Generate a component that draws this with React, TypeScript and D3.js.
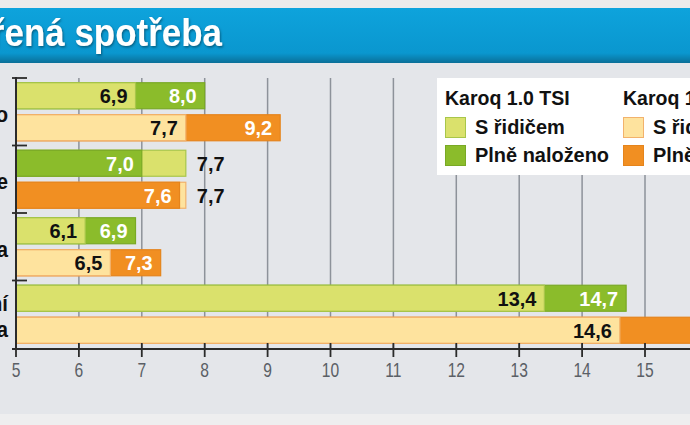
import React from "react";
import * as d3 from "d3";

const categories = ["Město", "Dálnice", "Okreska", "Sportovní jízda"];
const tsi10Driver = [6.9, 7.7, 6.1, 13.4];
const tsi10Loaded = [8.0, 7.0, 6.9, 14.7];
const tsi15Driver = [7.7, 7.7, 6.5, 14.6];
const tsi15Loaded = [9.2, 7.6, 7.3, 16.6];
const xTicks = [5, 6, 7, 8, 9, 10, 11, 12, 13, 14, 15];

const W = 690;
const H = 425;
const FONT = "'Liberation Sans', Arial, sans-serif";

const models = [
  {
    key: "tsi10",
    name: "Karoq 1.0 TSI",
    driver: tsi10Driver,
    loaded: tsi10Loaded,
    light: "#dae16c",
    lightStroke: "#a8c64a",
    dark: "#8bbc2b",
    darkStroke: "#79a925",
  },
  {
    key: "tsi15",
    name: "Karoq 1.5 TSI",
    driver: tsi15Driver,
    loaded: tsi15Loaded,
    light: "#fee39e",
    lightStroke: "#f2b26c",
    dark: "#f18f22",
    darkStroke: "#e5841c",
  },
];

const fmt = (v: number) => v.toFixed(1).replace(".", ",");

// text squeezed horizontally, the source uses a condensed face
const Narrow = ({ x, y, sx = 0.92, children, ...rest }: any) => (
  <g transform={`translate(${x},${y}) scale(${sx},1)`}>
    <text x={0} y={0} fontFamily={FONT} {...rest}>
      {children}
    </text>
  </g>
);

export default function App() {
  const x = d3.scaleLinear().domain([5, 15]).range([16, 645]);
  const y = d3.scaleBand().domain(categories).range([78, 348]);
  const inner = d3
    .scaleBand()
    .domain(models.map((m) => m.key))
    .range([0, y.bandwidth()])
    .paddingInner(0.1875)
    .paddingOuter(0.148);
  const bh = inner.bandwidth();
  const x0 = x(5);

  return (
    <div style={{ position: "absolute", left: 0, top: 0 }}>
      <svg width={W} height={H} style={{ display: "block" }}>
        <defs>
          <linearGradient id="band" x1="0" y1="0" x2="0" y2="1">
            <stop offset="0" stopColor="#0ea3dc" />
            <stop offset="0.82" stopColor="#0a97cf" />
            <stop offset="1" stopColor="#0a6f98" />
          </linearGradient>
          <filter id="shadow" x="-5%" y="-20%" width="110%" height="140%">
            <feDropShadow dx="1" dy="1.5" stdDeviation="0.8" floodColor="#04425e" floodOpacity="0.7" />
          </filter>
        </defs>

        <rect x={0} y={0} width={W} height={H} fill="#e4e6ea" />
        <rect x={0} y={0} width={W} height={8} fill="#ebebeb" />
        <rect x={0} y={414} width={W} height={11} fill="#eeeeef" />
        <rect x={0} y={8} width={W} height={55} fill="url(#band)" />
        <g filter="url(#shadow)">
          <Narrow x={222} y={46} sx={0.92} textAnchor="end" fill="#fff" fontWeight="bold" fontSize={38}>
            Naměřená spotřeba
          </Narrow>
        </g>

        {/* grid */}
        {xTicks.slice(1).map((t) => (
          <line key={t} x1={x(t)} x2={x(t)} y1={78} y2={349} stroke="#8d929a" strokeWidth={1.5} />
        ))}

        {/* legend */}
        <rect x={437} y={78} width={260} height={97} fill="#ffffff" />
        {models.map((m, i) => {
          const lx = 445 + i * 178;
          return (
            <g key={m.key} fill="#111">
              <Narrow x={lx} y={105} sx={0.93} fontWeight="bold" fontSize={21}>{m.name}</Narrow>
              <rect x={lx + 0.5} y={117.5} width={20} height={20} fill={m.light} stroke={m.lightStroke} />
              <Narrow x={lx + 30} y={134} sx={0.95} fontWeight="bold" fontSize={21}>S řidičem</Narrow>
              <rect x={lx + 0.5} y={145.5} width={20} height={20} fill={m.dark} stroke={m.darkStroke} />
              <Narrow x={lx + 30} y={162} sx={0.95} fontWeight="bold" fontSize={21}>Plně naloženo</Narrow>
            </g>
          );
        })}

        {/* bars */}
        {categories.map((c, ci) => (
          <g key={c} transform={`translate(0,${y(c)})`}>
            {models.map((m) => {
              const by = inner(m.key) as number;
              const bars = [
                { v: m.driver[ci], fill: m.light, stroke: m.lightStroke, dark: false },
                { v: m.loaded[ci], fill: m.dark, stroke: m.darkStroke, dark: true },
              ].sort((a, b) => b.v - a.v);
              const [long, short] = bars;
              const cy = by + bh / 2 + 7.5;
              const outside = !long.dark;
              return (
                <g key={m.key}>
                  {bars.map((b) => (
                    <rect
                      key={String(b.dark)}
                      x={x0}
                      y={by}
                      width={x(b.v) - x0}
                      height={bh}
                      fill={b.fill}
                      stroke={b.stroke}
                      strokeWidth={1.2}
                    />
                  ))}
                  <Narrow
                    x={x(short.v) - 8}
                    y={cy}
                    sx={0.95}
                    textAnchor="end"
                    fontWeight="bold"
                    fontSize={21}
                    fill={short.dark ? "#fff" : "#111"}
                  >
                    {fmt(short.v)}
                  </Narrow>
                  <Narrow
                    x={outside ? x(long.v) + 11 : x(long.v) - 8}
                    y={cy}
                    sx={0.95}
                    textAnchor={outside ? "start" : "end"}
                    fontWeight="bold"
                    fontSize={21}
                    fill={outside ? "#111" : "#fff"}
                  >
                    {fmt(long.v)}
                  </Narrow>
                </g>
              );
            })}
            {/* category label, cut off at the left edge like the source */}
            {c.split(" ").map((line, li, arr) => (
              <Narrow
                key={line}
                x={8}
                y={y.bandwidth() / 2 + 10 - (arr.length - 1) * 13 + li * 26}
                sx={0.92}
                textAnchor="end"
                fontWeight="bold"
                fontSize={22}
                fill="#111"
              >
                {line}
              </Narrow>
            ))}
          </g>
        ))}

        {/* y axis */}
        <line x1={x0} x2={x0} y1={77} y2={349} stroke="#2b2b2b" strokeWidth={2} />
        {categories.map((c) => (
          <line key={c} x1={12} x2={27} y1={y(c)} y2={y(c)} stroke="#2b2b2b" strokeWidth={1.8} />
        ))}

        {/* x axis */}
        <line x1={12} x2={W} y1={349} y2={349} stroke="#2b2b2b" strokeWidth={2.2} />
        {xTicks.map((t) => (
          <g key={t}>
            <line x1={x(t)} x2={x(t)} y1={343} y2={357} stroke="#2b2b2b" strokeWidth={1.8} />
            <Narrow x={x(t)} y={377} sx={0.78} textAnchor="middle" fontSize={20} fill="#5b5f66">
              {t}
            </Narrow>
          </g>
        ))}
      </svg>
    </div>
  );
}
